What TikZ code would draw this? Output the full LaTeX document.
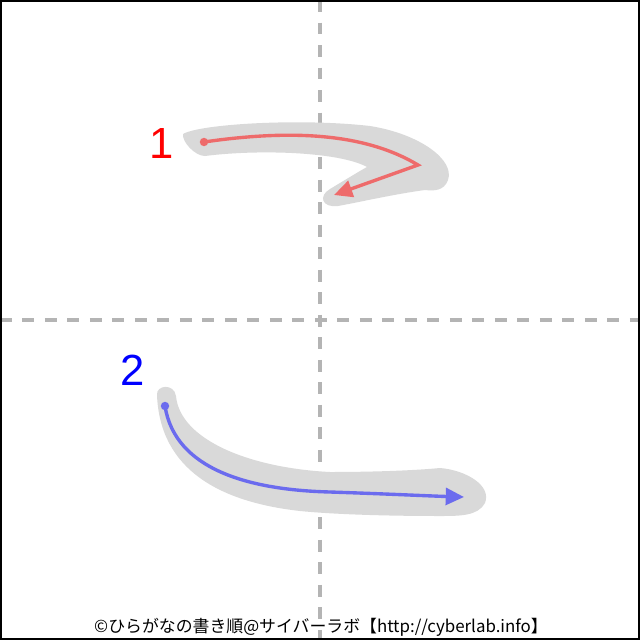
\documentclass[tikz,border=0pt]{standalone}
\usepackage{fontspec}
\setmainfont{Liberation Sans}
\newfontfamily\jpfont{Noto Sans CJK JP}
\usetikzlibrary{arrows.meta}
\definecolor{GuideGray}{HTML}{B4B4B4}
\definecolor{BrushGray}{HTML}{D9D9D9}
\definecolor{StrokeRed}{HTML}{EE6B6B}
\definecolor{StrokeBlue}{HTML}{6B6BEE}

\begin{document}
\begin{tikzpicture}[x=0.025cm,y=-0.025cm,>=Latex,
    guide/.style={GuideGray,line width=2.8pt,dash pattern=on 8.5pt off 7.5pt},
    brush/.style={fill=BrushGray,draw=none},
    order/.style={line width=2.4pt,-{Triangle[length=13pt,width=12pt]}},
    numlabel/.style={font=\fontsize{31}{31}\selectfont,inner sep=0pt}
  ]
  \useasboundingbox (0,0) rectangle (640,640);
  \fill[white] (0,0) rectangle (640,640);
  \draw[guide] (320,0) -- (320,640);
  \draw[guide] (0,320) -- (640,320);
  \fill[brush] (183,134) .. controls (200,124) and (300,118) .. (370,126)
    .. controls (420,134) and (455,160) .. (448,180)
    .. controls (444,191) and (434,191) .. (425,190)
    .. controls (395,194) and (360,202) .. (338,206)
    .. controls (322,208) and (318,196) .. (330,189)
    .. controls (345,180) and (358,172) .. (367,167)
    .. controls (340,152) and (260,149) .. (205,156)
    .. controls (195,156) and (182,142) .. (183,134) -- cycle;
  \fill[brush] (157,395) .. controls (156,385) and (174,383) .. (176,396)
    .. controls (180,440) and (250,468) .. (330,472)
    .. controls (380,472) and (420,470) .. (440,468)
    .. controls (465,470) and (492,485) .. (485,503)
    .. controls (478,516) and (460,516) .. (440,516)
    .. controls (380,516) and (330,514) .. (300,511)
    .. controls (220,502) and (160,470) .. (157,395) -- cycle;
  \coordinate (oneStart) at (204,142);
  \coordinate (oneTurn) at (418,165);
  \coordinate (oneEnd) at (334,195);
  \coordinate (twoStart) at (165,406);
  \coordinate (twoEnd) at (464,497);
  \fill[StrokeRed] (oneStart) circle (3pt);
  \draw[order,StrokeRed] (oneStart) .. controls (280,131) and (360,130) .. (oneTurn) -- (oneEnd);
  \fill[StrokeBlue] (twoStart) circle (3pt);
  \draw[order,StrokeBlue] (twoStart) .. controls (175,470) and (250,490) .. (330,492)
    .. controls (390,494) and (430,496) .. (twoEnd);
  \node[numlabel,text=red] (numOne) at (162,143) {1};
  \node[numlabel,text=blue] (numTwo) at (133,370) {2};
  \node[font=\jpfont\fontsize{12}{13}\selectfont,inner sep=0pt] (credit) at (321,627) {©ひらがなの書き順@サイバーラボ【http://cyberlab.info】};
  \draw[black,line width=1.42pt] (1,1) rectangle (639,639);
\end{tikzpicture}
\end{document}
